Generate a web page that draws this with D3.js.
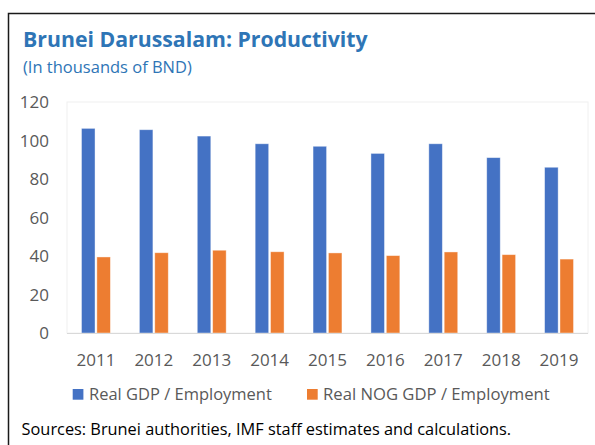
<!DOCTYPE html>
<html><head><meta charset="utf-8">
<script src="https://cdn.jsdelivr.net/npm/d3@7/dist/d3.min.js"></script>
<style>html,body{margin:0;padding:0;background:#fff;}svg{display:block;font-family:"Open Sans",sans-serif;}</style>
</head><body>
<script>
const years = ["2011","2012","2013","2014","2015","2016","2017","2018","2019"];
const realGDP = [106.3,105.6,102.3,98.3,97.0,93.3,98.3,91.1,86.1];
const realNOG = [39.5,41.7,43.0,42.2,41.6,40.2,42.1,40.7,38.4];
const seriesNames = ["Real GDP / Employment","Real NOG GDP / Employment"];
const yTicks = [0,20,40,60,80,100,120];

const W=595,H=445;
const svg=d3.select("body").append("svg").attr("width",W).attr("height",H);
svg.append("rect").attr("width",W).attr("height",H).attr("fill","#fff");
// frame
svg.append("rect").attr("x",8.5).attr("y",13.5).attr("width",700).attr("height",600)
  .attr("fill","none").attr("stroke","#1a1a1a").attr("stroke-width",1.5);

function fit(t,target){const n=t.node();let fs=parseFloat(t.attr("font-size"));const w=n.getComputedTextLength();t.attr("font-size",fs*target/w);}

const title=svg.append("text").attr("x",23).attr("y",47).attr("font-size",22).attr("font-weight",700)
  .attr("fill","#2E75B6").text("Brunei Darussalam: Productivity");
fit(title,345);
const sub=svg.append("text").attr("x",23).attr("y",72.5).attr("font-size",15)
  .attr("fill","#2E75B6").text("(In thousands of BND)");
fit(sub,169);

const m={l:67,r:588,t:102,b:333};
const x=d3.scaleBand().domain(years).range([m.l,m.r]).paddingInner(0).paddingOuter(0);
const y=d3.scaleLinear().domain([0,120]).range([m.b,m.t]);
const x1=d3.scaleBand().domain([0,1]).range([14.5,x.bandwidth()-14.5]).paddingInner(0.12);

// plot area border
svg.append("rect").attr("x",m.l).attr("y",m.t).attr("width",m.r-m.l).attr("height",m.b-m.t)
  .attr("fill","none").attr("stroke","#f0f0f0").attr("stroke-width",1);

const colors=["#4472C4","#ED7D31"];
const data=[realGDP,realNOG];
data.forEach((arr,si)=>{
  svg.append("g").selectAll("rect").data(arr).join("rect")
    .attr("x",(d,i)=>x(years[i])+x1(si)).attr("width",x1.bandwidth())
    .attr("y",d=>y(d)).attr("height",d=>y(0)-y(d))
    .attr("fill",colors[si]).attr("stroke","#ffffff").attr("stroke-opacity",0.5).attr("stroke-width",0.8);
});

// baseline
svg.append("line").attr("x1",m.l).attr("x2",m.r).attr("y1",y(0)+0.5).attr("y2",y(0)+0.5)
  .attr("stroke","#d9d9d9").attr("stroke-width",1);

// y axis
const ya=svg.append("g").attr("transform",`translate(49,0)`)
  .call(d3.axisLeft(y).tickValues(yTicks).tickSize(0).tickPadding(0));
ya.select(".domain").remove();
ya.selectAll("text").attr("font-size",17).attr("fill","#595959").attr("font-family","Open Sans, sans-serif").attr("dy","0.35em");

// x axis
const xa=svg.append("g").attr("transform",`translate(0,${m.b})`)
  .call(d3.axisBottom(x).tickSize(0).tickPadding(0));
xa.select(".domain").remove();
xa.selectAll("text").attr("font-size",17).attr("fill","#595959").attr("font-family","Open Sans, sans-serif")
  .attr("dy",0).attr("y",33);

// legend
const lg=[{x:72.7,tx:89,tw:183},{x:307,tx:323,tw:227}];
lg.forEach((l,i)=>{
  svg.append("rect").attr("x",l.x).attr("y",389).attr("width",10.7).attr("height",10.7).attr("fill",colors[i]);
  const t=svg.append("text").attr("x",l.tx).attr("y",399.5).attr("font-size",17).attr("fill","#595959").text(seriesNames[i]);
  fit(t,l.tw);
});

const src=svg.append("text").attr("x",21.6).attr("y",435).attr("font-size",17).attr("fill","#000").text("Sources: Brunei authorities, IMF staff estimates and calculations.");
fit(src,490);
</script>
</body></html>
